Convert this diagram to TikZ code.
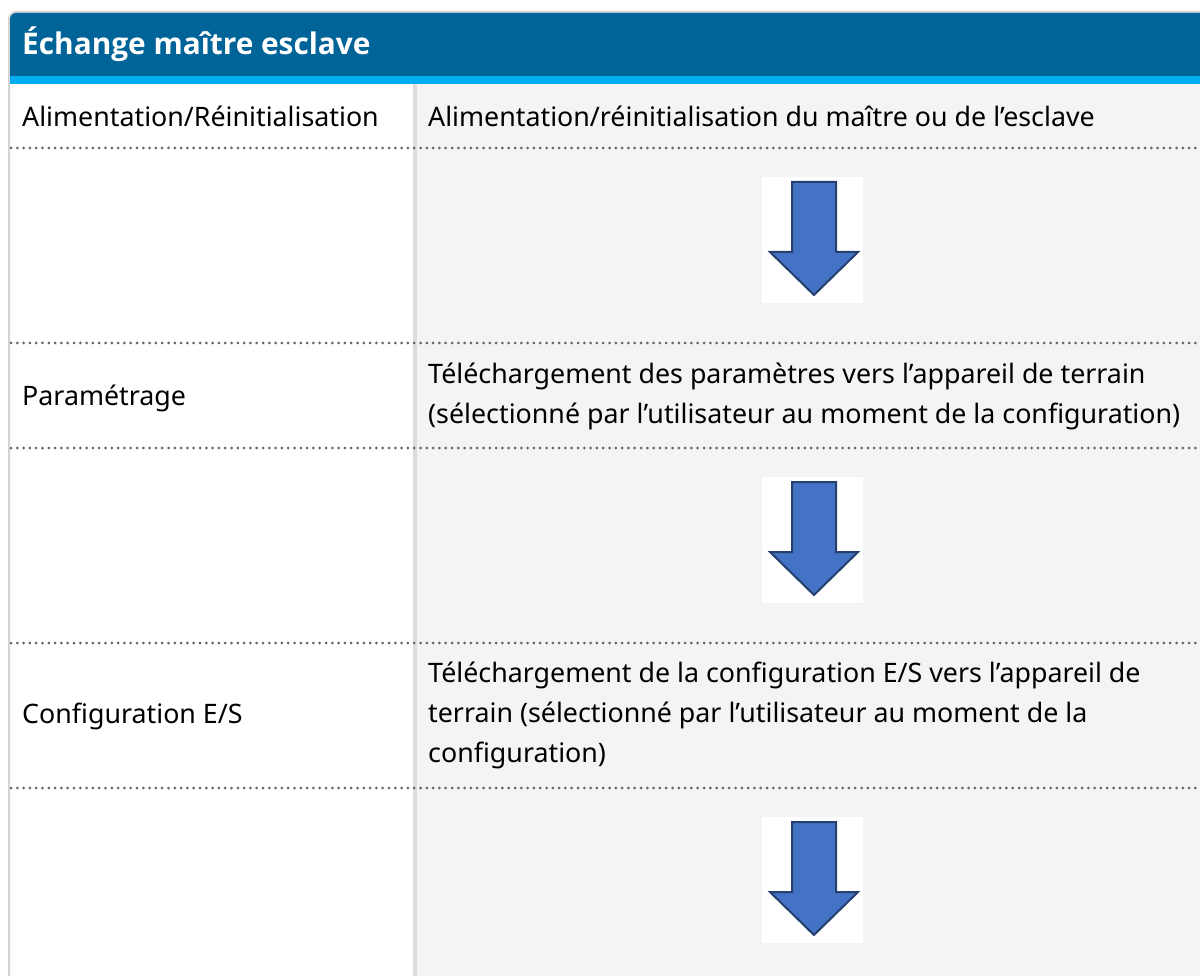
\documentclass[tikz,border=0pt]{standalone}
\usepackage{fontspec}
\setmainfont{Noto Sans}
\newfontfamily\headfont{Open Sans}
\usetikzlibrary{positioning}
\definecolor{hdrblue}{HTML}{006498}
\definecolor{hdrcyan}{HTML}{00AEEF}
\definecolor{pane}{HTML}{F4F4F4}
\definecolor{frame}{HTML}{D4D4D4}
\definecolor{sep}{HTML}{DCDCDC}
\definecolor{dots}{HTML}{656565}
\definecolor{arrowfill}{HTML}{4472C4}
\definecolor{arrowedge}{HTML}{24406E}
\tikzset{
  title/.style={anchor=base west,inner sep=0pt,text=white,
                font=\headfont\bfseries\fontsize{29.8}{34}\selectfont},
  cell/.style={anchor=west,inner sep=0pt,align=left,
               font=\fontsize{26.8}{40}\selectfont},
  dotrule/.style={draw=dots,line width=3pt,line cap=round,
                  dash pattern=on 0pt off 6.3pt},
  arrowbg/.style={fill=white,minimum width=101pt,minimum height=126pt,inner sep=0pt},
  bigarrow/.style={fill=arrowfill,draw=arrowedge,line width=2pt,line join=miter},
}
\begin{document}
\begin{tikzpicture}[x=1pt,y=-1pt]
    \useasboundingbox (0,0) rectangle (1200,976);
    \clip (0,0) rectangle (1200,976);
    % frame and header
    \fill[white] (0,0) rectangle (1200,976);
    \fill[pane] (416,84) rectangle (1220,990);
    \fill[sep] (413,84) rectangle (417,990);
    \draw[frame,line width=2pt,rounded corners=7pt] (9,990) |- (1220,12);
    \fill[hdrblue,rounded corners=6pt] (10,84) |- (1220,13) |- cycle;
    \fill[hdrcyan] (10,76) rectangle (1220,84);
    \node[title] (head) at (22,55) {Échange maître esclave};
    % rows
    \foreach \y in {148,343,448,643,788}
      \draw[dotrule] (11,\y) -- (1200,\y);
    \node[cell] (alim) at (22,116) {Alimentation/Réinitialisation};
    \node[cell] (alimdesc) at (428,116)
      {Alimentation/réinitialisation du maître ou de l’esclave};
    \node[cell] (param) at (22,398) {Paramétrage};
    \node[cell] (paramdesc) at (428,396)
      {Téléchargement des paramètres vers l’appareil de terrain\\
       (sélectionné par l’utilisateur au moment de la configuration)};
    \node[cell] (config) at (22,716) {Configuration E/S};
    \node[cell] (configdesc) at (428,715)
      {Téléchargement de la configuration E/S vers l’appareil de\\
       terrain (sélectionné par l’utilisateur au moment de la\\
       configuration)};
    % down arrows
    \foreach \y [count=\i] in {240,540,880}{
      \node[arrowbg] (gap\i) at (812.5,\y) {};
      \draw[bigarrow] (gap\i.center) ++(-20.5,-58) -- ++(44,0) -- ++(0,70)
        -- ++(22,0) -- ++(-44,43) -- ++(-44,-43) -- ++(22,0) -- cycle;
    }
  \end{tikzpicture}
\end{document}
